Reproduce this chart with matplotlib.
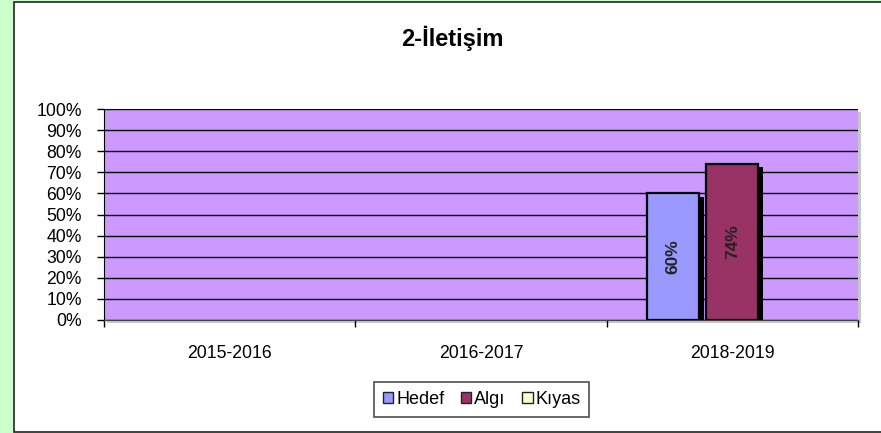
import matplotlib
matplotlib.use("Agg")
import matplotlib.pyplot as plt
import matplotlib.patheffects as pe
from matplotlib.patches import Rectangle, Patch
import numpy as np

plt.rcParams['font.family'] = ['Liberation Sans', 'DejaVu Sans']

title = "2-İletişim"
categories = ["2015-2016", "2016-2017", "2018-2019"]
series_names = ["Hedef", "Algı", "Kıyas"]
hedef = [0, 0, 60]
algi = [0, 0, 74]
kiyas = [0, 0, 0]
series_values = [hedef, algi, kiyas]
series_colors = ["#9999FF", "#993366", "#FFFFCC"]
yticks = list(range(0, 101, 10))
ytick_labels = [f"{v}%" for v in yticks]

W, H = 881, 433
fig = plt.figure(figsize=(W / 100, H / 100), dpi=100)
fig.patch.set_facecolor("#CCFFCC")

# chart area (white with border)
fig.patches.append(Rectangle((14 / W, 1.5 / H), 1.0, 1 - 3 / H, transform=fig.transFigure,
                             facecolor="white", edgecolor="#222222", linewidth=1.2, zorder=-5))

L, R, T, B = 104, 858, 109, 320
# light shadow of the plot area
fig.patches.append(Rectangle(((L + 3) / W, 1 - (B + 3) / H), (R - L) / W, (B - T) / H,
                             transform=fig.transFigure, facecolor="#C8C8C8",
                             edgecolor="none", zorder=-4))

ax = fig.add_axes([L / W, 1 - B / H, (R - L) / W, (B - T) / H])
ax.set_zorder(2)
ax.set_facecolor("#CC99FF")
ax.set_xlim(0, len(categories))
ax.set_ylim(0, 100)

ax.set_yticks(yticks)
ax.set_yticklabels(ytick_labels, fontsize=12.7)
ax.yaxis.grid(True, color="black", linewidth=1.0)
ax.set_axisbelow(True)

ax.set_xticks(np.arange(0, len(categories) + 1))
ax.set_xticklabels([])
ax.set_xticks(np.arange(len(categories)) + 0.5, minor=True)
ax.set_xticklabels(categories, minor=True, fontsize=12.7)
ax.tick_params(axis='x', which='minor', length=0, pad=18)
ax.tick_params(axis='x', which='major', length=5, width=1, color="black", direction='out')
ax.tick_params(axis='y', length=5, width=1, direction='out', pad=11)

for s in ["top", "right"]:
    ax.spines[s].set_visible(False)
ax.spines["left"].set_color("black")
ax.spines["bottom"].set_color("#444444")

bw = 0.207
step = 0.235
x = np.arange(len(categories)) + 0.5
for i, (name, vals, col) in enumerate(zip(series_names, series_values, series_colors)):
    offs = (i - 1) * step
    bars = ax.bar(x + offs, vals, width=bw, color=col, edgecolor="black", linewidth=1.6,
                  label=name, zorder=3,
                  path_effects=[pe.SimplePatchShadow(offset=(3.5, -2.5), shadow_rgbFace="black", alpha=1.0),
                                pe.Normal()])
    for b, v in zip(bars, vals):
        if v == 0:
            b.set_visible(False)
    for xi, v in zip(x + offs, vals):
        if v > 0:
            ax.text(xi, v / 2, f"{v}%", rotation=90, ha="center", va="center",
                    fontsize=12.5, fontweight="bold", color="#222222", zorder=5)

fig.text(452 / W, 1 - 38 / H, title, ha="center", va="center", fontsize=17, fontweight="bold")

handles = [Patch(facecolor=c, edgecolor="#222222", linewidth=1.0) for c in series_colors]
leg = fig.legend(handles, series_names, loc="center", bbox_to_anchor=(481.5 / W, 1 - 399.5 / H),
                 ncol=3, fontsize=13, frameon=True, fancybox=False, handlelength=0.6,
                 handleheight=0.6, handletextpad=0.15, columnspacing=0.9, borderpad=0.5,
                 borderaxespad=0)
leg.get_frame().set_edgecolor("#222222")
leg.get_frame().set_linewidth(1.2)

fig.savefig("out.png", dpi=100, facecolor=fig.get_facecolor())
